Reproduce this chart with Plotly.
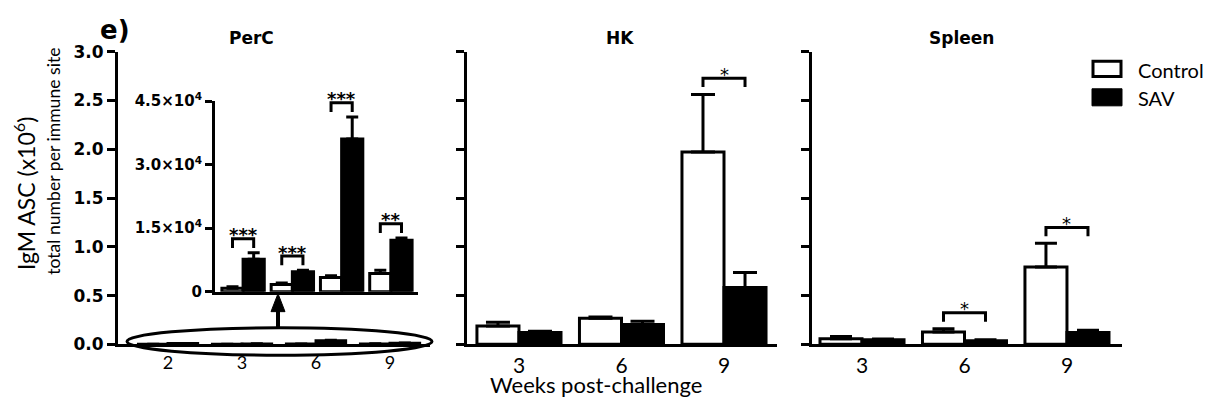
import plotly.graph_objects as go

W, H = 1211, 407

# ---------------- data ----------------
# PerC (cells per site); main panel shows them in x10^6, inset in raw numbers
perc_weeks = ["2", "3", "6", "9"]
perc_control = [800, 1720, 3360, 4320]
perc_control_err = [400, 360, 440, 760]
perc_sav = [7680, 4700, 36050, 12160]
perc_sav_err = [1500, 380, 5200, 540]
perc_sig = ["***", "***", "***", "**"]

# HK (x10^6)
hk_weeks = ["3", "6", "9"]
hk_control = [0.187, 0.268, 1.972]
hk_control_err = [0.039, 0.012, 0.591]
hk_sav = [0.122, 0.203, 0.583]
hk_sav_err = [0.012, 0.033, 0.155]
hk_sig = ["", "", "*"]

# Spleen (x10^6)
spleen_weeks = ["3", "6", "9"]
spleen_control = [0.057, 0.128, 0.794]
spleen_control_err = [0.023, 0.033, 0.243]
spleen_sav = [0.047, 0.037, 0.122]
spleen_sav_err = [0.007, 0.010, 0.022]
spleen_sig = ["", "*", "*"]

y_ticks = [0, 0.5, 1.0, 1.5, 2.0, 2.5, 3.0]
y_ticktext = ["0.0", "0.5", "1.0", "1.5", "2.0", "2.5", "3.0"]
inset_ticks = [0, 15000, 30000, 45000]
inset_ticktext = ["0", "1.5×10<sup>4</sup>", "3.0×10<sup>4</sup>", "4.5×10<sup>4</sup>"]

FONT = "Lato, 'Open Sans', sans-serif"
BFONT = "'DejaVu Sans', sans-serif"
LW = 3


def xp(px):
    return px / W


def yp(py):
    return 1 - py / H


fig = go.Figure()


def add_bars(xa, ya, control, cerr, sav, serr, w, capw):
    n = len(control)
    xs = list(range(n))
    fig.add_trace(go.Bar(
        x=xs, y=control, width=w, offset=-w, xaxis=xa, yaxis=ya,
        marker=dict(color="white", line=dict(color="black", width=LW)),
        error_y=dict(type="data", array=cerr, arrayminus=[0] * n, symmetric=False,
                     color="black", thickness=LW, width=capw),
        showlegend=False, hoverinfo="skip"))
    fig.add_trace(go.Bar(
        x=xs, y=sav, width=w, offset=0, xaxis=xa, yaxis=ya,
        marker=dict(color="black", line=dict(color="black", width=LW)),
        error_y=dict(type="data", array=serr, arrayminus=[0] * n, symmetric=False,
                     color="black", thickness=LW, width=capw),
        showlegend=False, hoverinfo="skip"))


def add_sig(xa, ya, control, cerr, sav, serr, sig, w, gap, h, star_size, bold):
    for i, s in enumerate(sig):
        if not s:
            continue
        top = max(control[i] + cerr[i], sav[i] + serr[i])
        y0 = top + gap
        y1 = y0 + h
        x0 = i - w / 2
        x1 = i + w / 2
        fig.add_shape(type="path", xref=xa, yref=ya,
                      path=f"M {x0},{y0} L {x0},{y1} L {x1},{y1} L {x1},{y0}",
                      line=dict(color="black", width=LW))
        txt = f"<b>{s}</b>" if bold else s
        fig.add_annotation(x=i, y=y1, xref=xa, yref=ya, text=txt, showarrow=False,
                           yanchor="middle", yshift=4,
                           font=dict(family=BFONT, size=star_size, color="black"))


# main PerC (x10^6)
W_MAIN = 0.4
add_bars("x", "y", [v / 1e6 for v in perc_control], [v / 1e6 for v in perc_control_err],
         [v / 1e6 for v in perc_sav], [v / 1e6 for v in perc_sav_err], W_MAIN, 6)
# HK
W_HK = 0.41
add_bars("x2", "y2", hk_control, hk_control_err, hk_sav, hk_sav_err, W_HK, 12)
add_sig("x2", "y2", hk_control, hk_control_err, hk_sav, hk_sav_err, hk_sig, W_HK, 0.075, 0.09, 18, False)
# Spleen
W_SP = 0.41
add_bars("x3", "y3", spleen_control, spleen_control_err, spleen_sav, spleen_sav_err, W_SP, 11)
add_sig("x3", "y3", spleen_control, spleen_control_err, spleen_sav, spleen_sav_err, spleen_sig, W_SP, 0.072, 0.09, 18, False)
# Inset PerC
W_IN = 0.43
add_bars("x4", "y4", perc_control, perc_control_err, perc_sav, perc_sav_err, W_IN, 6)
add_sig("x4", "y4", perc_control, perc_control_err, perc_sav, perc_sav_err, perc_sig, W_IN, 1150, 2200, 18, True)

axis_common = dict(showline=True, linecolor="black", linewidth=LW, showgrid=False,
                   zeroline=False, fixedrange=True)
ydom = [yp(351.5), yp(43)]
yax = dict(axis_common, range=[0, 3.0], domain=ydom, tickvals=y_ticks, ticks="outside",
           ticklen=8, tickwidth=LW, tickcolor="black")

fig.update_layout(
    width=W, height=H, margin=dict(l=0, r=0, t=0, b=0),
    paper_bgcolor="white", plot_bgcolor="rgba(0,0,0,0)",
    barmode="overlay", showlegend=False,
    xaxis=dict(axis_common, domain=[xp(118), xp(430)], range=[-0.676, 3.54], anchor="y",
               tickvals=list(range(len(perc_weeks))), ticktext=perc_weeks, ticks="",
               tickfont=dict(family=FONT, size=18, color="black")),
    yaxis=dict(yax, anchor="x", ticktext=[f"<b>{t}</b>" for t in y_ticktext],
               tickfont=dict(family=BFONT, size=17, color="black")),
    xaxis2=dict(axis_common, domain=[xp(467), xp(777)], range=[-0.507, 2.517], anchor="y2",
                tickvals=list(range(len(hk_weeks))), ticktext=hk_weeks, ticks="",
                tickfont=dict(family=FONT, size=21, color="black")),
    yaxis2=dict(yax, anchor="x2", showticklabels=False),
    xaxis3=dict(axis_common, domain=[xp(812), xp(1122)], range=[-0.488, 2.537], anchor="y3",
                tickvals=list(range(len(spleen_weeks))), ticktext=spleen_weeks, ticks="",
                tickfont=dict(family=FONT, size=21, color="black")),
    yaxis3=dict(yax, anchor="x3", showticklabels=False),
    xaxis4=dict(axis_common, domain=[xp(215), xp(418)], range=[-0.57, 3.55], anchor="y4",
                showticklabels=False, ticks=""),
    yaxis4=dict(axis_common, domain=[yp(296), yp(95)], range=[0, 45000], anchor="x4",
                tickvals=inset_ticks, ticktext=[f"<b>{t}</b>" for t in inset_ticktext],
                ticks="outside", ticklen=7, tickwidth=LW, tickcolor="black",
                tickfont=dict(family=BFONT, size=15, color="black")),
)

# ellipse and arrow (decoration linking main panel to inset)
fig.add_shape(type="circle", xref="paper", yref="paper",
              x0=xp(127), x1=xp(432), y0=yp(363), y1=yp(334),
              line=dict(color="black", width=LW))
fig.add_shape(type="line", xref="paper", yref="paper",
              x0=xp(278), x1=xp(278), y0=yp(334), y1=yp(314),
              line=dict(color="black", width=4))
fig.add_shape(type="path", xref="paper", yref="paper",
              path=f"M {xp(278)},{yp(298)} L {xp(271)},{yp(317)} L {xp(285)},{yp(317)} Z",
              fillcolor="black", line=dict(color="black", width=1))

# legend
fig.add_shape(type="rect", xref="paper", yref="paper", x0=xp(1093), x1=xp(1121),
              y0=yp(69), y1=yp(53), fillcolor="white", line=dict(color="black", width=LW))
fig.add_shape(type="rect", xref="paper", yref="paper", x0=xp(1092), x1=xp(1122),
              y0=yp(100), y1=yp(82), fillcolor="black", line=dict(color="black", width=1))


def text(x, y, s, size, bold=False, angle=0, xanchor="center", family=FONT):
    fig.add_annotation(x=xp(x), y=yp(y), xref="paper", yref="paper", showarrow=False,
                       text=f"<b>{s}</b>" if bold else s, textangle=angle,
                       xanchor=xanchor, yanchor="middle",
                       font=dict(family=family, size=size, color="black"))


text(1136, 62, "Control", 20, xanchor="left")
text(1136, 92, "SAV", 20, xanchor="left")
text(251, 28, "PerC", 17, bold=True, family=BFONT)
text(620, 28, "HK", 17, bold=True, family=BFONT)
text(962, 28, "Spleen", 17, bold=True, family=BFONT)
text(115, 20, "e)", 26, bold=True, family=BFONT)
text(596, 394, "Weeks post-challenge", 22)
text(24, 193, "IgM ASC (x10<sup>6</sup>)", 23, angle=-90)
text(54, 159, "total number per immune site", 17.6, angle=-90)

fig.write_html("out.html")
